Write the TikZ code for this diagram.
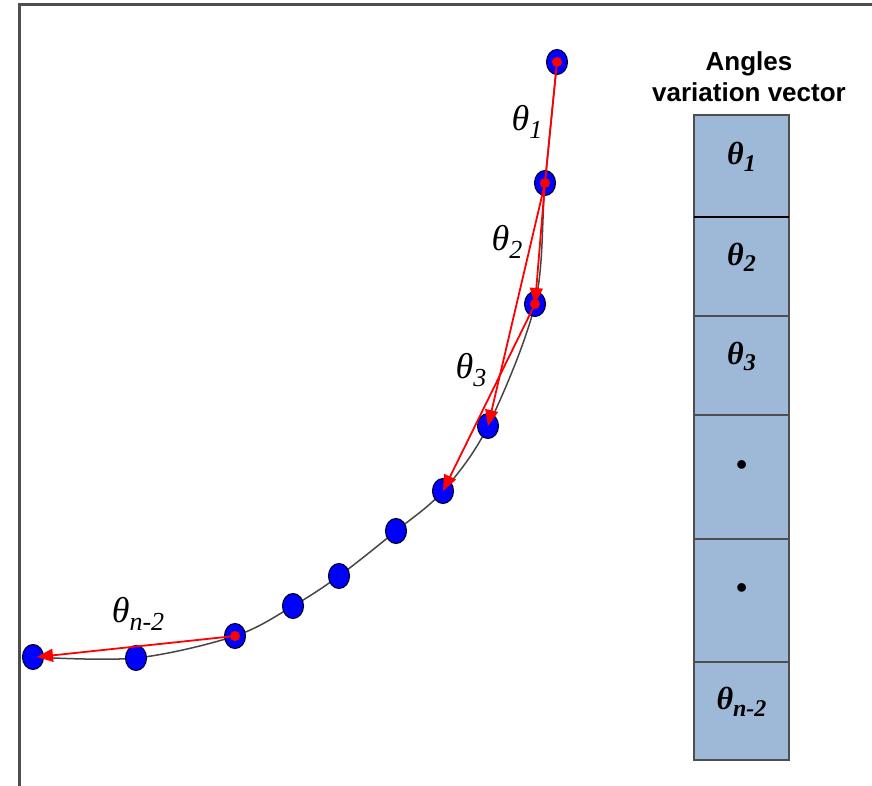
\documentclass[tikz,border=0pt]{standalone}
\usepackage{fontspec}
\setmainfont{Liberation Serif}
\setsansfont{Liberation Sans}
\usetikzlibrary{matrix, arrows.meta, positioning, shapes.geometric}
\definecolor{VecBlue}{RGB}{158, 184, 215}
\definecolor{FrameGray}{RGB}{78, 78, 78}
\definecolor{CurveGray}{RGB}{70, 70, 70}

% angle symbol with a lowered subscript
\newcommand{\angsym}[2][26]{θ\raisebox{-0.45ex}{\fontsize{#1}{#1}\selectfont #2}}
% cell entry, set a bit above the middle of its cell
\newcommand{\cellsym}[1]{\raisebox{9pt}[\height][\depth]{#1}}

\begin{document}
\begin{tikzpicture}[
    x=1pt, y=-1pt,
    % --- Styles ---
    % Style for the joints of the chain
    joint/.style={
        ellipse,
        draw=black!85!blue,
        fill=blue,
        line width=1.1pt,
        minimum width=21pt,
        minimum height=25pt,
        inner sep=0pt
    },
    % Style for the small red dots on some joints
    red-dot/.style={
        circle, fill=red, minimum size=10pt, inner sep=0pt
    },
    % Style for the red angle arrows
    angle-arrow/.style={
        -{Triangle[length=16pt, width=13pt]},
        line width=1.8pt,
        draw=red
    },
    % Style for the angle labels along the chain
    angle-label/.style={
        font=\fontsize{36}{36}\selectfont\itshape
    },
    % Style for the vector cells
    vec-style/.style={
        matrix of nodes,
        nodes={draw=FrameGray, fill=VecBlue, line width=2pt,
               minimum width=95pt, minimum height=99pt, inner sep=0pt,
               font=\fontsize{32}{32}\selectfont\bfseries\itshape},
        inner sep=0pt, outer sep=0pt,
        row sep=-2pt,
        column sep=-2pt
    }
]
\useasboundingbox (0,0) rectangle (872,786);

% --- Frame ---
\draw[FrameGray, line width=3pt] (19,786) -- (19,5) -- (872,5);

% --- Joints of the chain ---
\coordinate (p1)  at (557,62);
\coordinate (p2)  at (545,183);
\coordinate (p3)  at (535,304);
\coordinate (p4)  at (488,426);
\coordinate (p5)  at (443,491);
\coordinate (p6)  at (396,531);
\coordinate (p7)  at (339,576);
\coordinate (p8)  at (293,606);
\coordinate (p9)  at (235,636);
\coordinate (p10) at (136,658);
\coordinate (p11) at (33,657);

\draw[CurveGray, line width=1.5pt] plot[smooth, tension=0.55] coordinates
    {(p1) (p2) (p3) (p4) (p5) (p6) (p7) (p8) (p9) (p10) (p11)};

\foreach \i in {1,...,11} {
    \node[joint] (j\i) at (p\i) {};
}

% --- Red angle arrows ---
\draw[red, line width=1.8pt] (j1.center) -- (j2.center);
\draw[angle-arrow] (j2.center) -- (j3.center);
\draw[angle-arrow] (j2.center) -- (j4.center);
\draw[angle-arrow] (j3.center) -- (j5.center);
\draw[angle-arrow] (j9.center) -- ([xshift=4pt]j11.center);

\foreach \i in {1,2,3,9} {
    \node[red-dot] (d\i) at (j\i) {};
}

% --- Angle labels ---
\node[angle-label] (t1) at (527,122) {\angsym{1}};
\node[angle-label] (t2) at (507,242) {\angsym{2}};
\node[angle-label] (t3) at (471,370) {\angsym{3}};
\node[angle-label] (tn) at (138,614) {\angsym{n-2}};

% --- Angles variation vector ---
\node[matrix, vec-style, anchor=north] (vec) at (741.5,114) {
    |[minimum height=102pt]| \cellsym{\angsym[24]{1}} \\
    \cellsym{\angsym[24]{2}} \\
    \cellsym{\angsym[24]{3}} \\
    |[minimum height=124pt]| \cellsym{\textbullet} \\
    |[minimum height=123pt]| \cellsym{\textbullet} \\
    |[minimum height=98pt]| \cellsym{\angsym[24]{n-2}} \\
};
\draw[black, line width=2.5pt] (vec-1-1.south west) -- (vec-1-1.south east);

\node[font=\fontsize{26}{31}\selectfont\sffamily\bfseries, align=center]
    (vec-title) at (749,77) {Angles\\variation vector};

\end{tikzpicture}
\end{document}
